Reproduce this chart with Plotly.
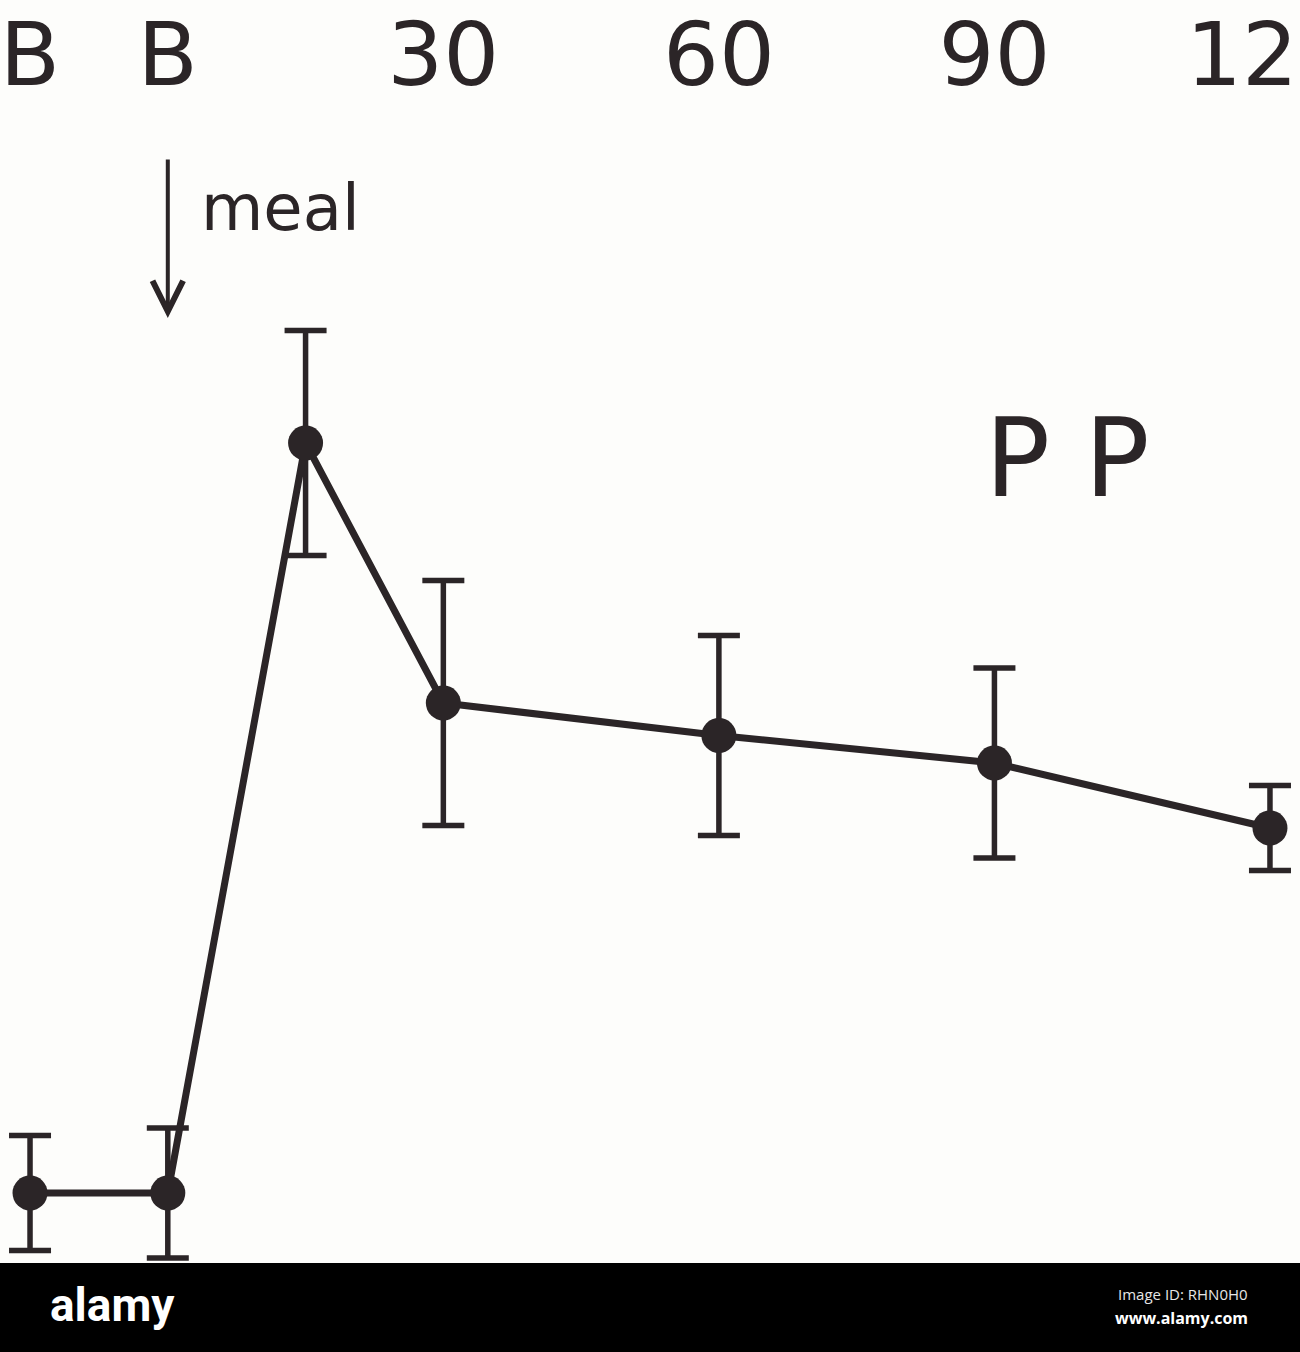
import plotly.graph_objects as go

# minutes relative to the meal (the two B points are basal samples)
time_min = [-15, 0, 15, 30, 60, 90, 120]
pp_level = [14, 14, 164, 112, 105.5, 100, 87]
pp_sem = [11.5, 13, 22.5, 24.5, 20, 19, 8.5]

tick_vals = [-15, 0, 30, 60, 90, 120]
tick_text = ["B", "B", "30", "60", "90", "120"]

ink = "#2b2527"
font_family = "DejaVu Sans"

fig = go.Figure()

fig.add_trace(go.Scatter(
    x=time_min,
    y=pp_level,
    mode="lines+markers",
    line=dict(color=ink, width=7),
    marker=dict(size=35, color=ink),
    error_y=dict(type="data", array=pp_sem, visible=True,
                 color=ink, thickness=5.5, width=21),
    showlegend=False,
    hoverinfo="skip",
))

# meal arrow
fig.add_annotation(x=0, y=189, ax=0, ay=221, xref="x", yref="y",
                   axref="x", ayref="y", showarrow=True, arrowhead=5,
                   arrowsize=1.5, arrowwidth=4, arrowcolor=ink, text="")
fig.add_annotation(x=3.4, y=211, xref="x", yref="y", text="meal",
                   showarrow=False, xanchor="left", yanchor="middle",
                   font=dict(family=font_family, size=64, color=ink))

fig.add_annotation(x=98, y=161, xref="x", yref="y", text="P P",
                   showarrow=False, xanchor="center", yanchor="middle",
                   font=dict(family=font_family, size=108, color=ink))

# stock-photo footer band
fig.add_shape(type="rect", xref="paper", yref="paper", x0=0, x1=1,
              y0=0, y1=89 / 1352, fillcolor="black", line_width=0,
              layer="above")
fig.add_annotation(x=48 / 1300, y=47 / 1352, xref="paper", yref="paper",
                   text="<b>alamy</b>", showarrow=False, xanchor="left",
                   yanchor="middle",
                   font=dict(family="Liberation Sans Narrow, Roboto",
                             size=46, color="white"))
fig.add_annotation(x=1250 / 1300, y=58 / 1352, xref="paper", yref="paper",
                   text="Image ID: RHN0H0", showarrow=False, xanchor="right",
                   yanchor="middle",
                   font=dict(family="Open Sans", size=15, color="#e6e6e6"))
fig.add_annotation(x=1250 / 1300, y=34 / 1352, xref="paper", yref="paper",
                   text="<b>www.alamy.com</b>", showarrow=False,
                   xanchor="right", yanchor="middle",
                   font=dict(family="Open Sans", size=16, color="white"))

fig.update_layout(
    width=1300,
    height=1352,
    margin=dict(l=0, r=0, t=0, b=0, autoexpand=False),
    paper_bgcolor="#fdfdfb",
    plot_bgcolor="#fdfdfb",
    xaxis=dict(range=[-18.27, 123.27], side="top", tickvals=tick_vals,
               ticktext=tick_text, ticks="", showgrid=False,
               zeroline=False, showline=False, ticklabelposition="inside",
               ticklabeloverflow="allow", automargin=False,
               ticklabelstandoff=20,
               tickfont=dict(family=font_family, size=88, color=ink)),
    yaxis=dict(range=[-17.8, 252.6], visible=False, showgrid=False,
               zeroline=False),
)

fig.write_html("out.html", config={"displayModeBar": False},
               post_script="document.body.style.margin='0';")
